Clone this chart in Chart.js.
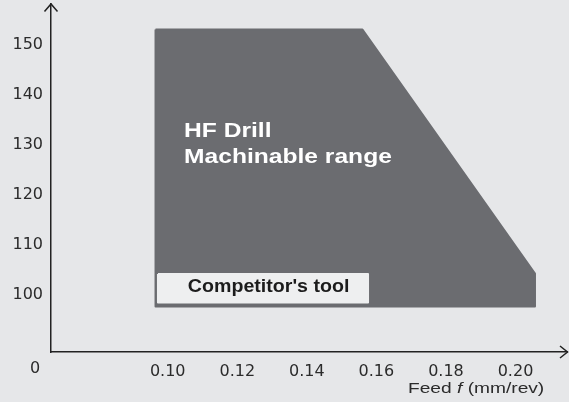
<!DOCTYPE html>
<html>
<head>
<meta charset="utf-8">
<script src="https://cdn.jsdelivr.net/npm/chart.js@4/dist/chart.umd.min.js"></script>
<style>
    html, body { margin: 0; padding: 0; background: #e6e7e9; }
    canvas { display: block; }
</style>
</head>
<body>
<canvas id="feedChart" width="569" height="402"></canvas>
<script>
// machinable range outline (feed mm/rev, cutting speed)
var rangeFeed  = [0.0965, 0.1560, 0.2056, 0.2056, 0.0965, 0.0965];
var rangeSpeed = [153.1, 153.1, 104.3, 97.7, 97.7, 153.1];

// competitor's tool window
var competitorFeed  = [0.0972, 0.1576, 0.1576, 0.0972, 0.0972];
var competitorSpeed = [104.2, 104.2, 98.5, 98.5, 104.2];

var feedTicks  = [0.10, 0.12, 0.14, 0.16, 0.18, 0.20];
var speedTicks = [100, 110, 120, 130, 140, 150];

var rangeTitle = ['HF Drill', 'Machinable range'];
var competitorTitle = "Competitor's tool";

(function() {
    var ctx = document.getElementById('feedChart').getContext('2d');
    var axisColor = '#222222';
    var textColor = '#2b2b2b';

    function toPoints(xs, ys) {
        return xs.map(function(x, i) { return { x: x, y: ys[i] }; });
    }

    // text with a little horizontal stretch
    function wideText(c, text, x, y, font, color, sx, align) {
        c.save();
        c.font = font;
        c.fillStyle = color;
        c.textBaseline = 'alphabetic';
        var w = c.measureText(text).width * sx;
        if (align === 'right') x -= w;
        c.translate(x, y);
        c.scale(sx, 1);
        c.fillText(text, 0, 0);
        c.restore();
        return w;
    }

    var labelsPlugin = {
        id: 'labels',
        afterDraw: function(chart) {
            var c = chart.ctx;
            var xs = chart.scales.x, ys = chart.scales.y;
            var area = chart.chartArea;
            var bold = 'bold 20.5px "Liberation Sans", Arial, sans-serif';

            // labels inside the range
            var lx = xs.getPixelForValue(0.1047);
            var ly = ys.getPixelForValue(131.6);
            rangeTitle.forEach(function(t, i) {
                wideText(c, t, lx, ly + i * 25.5, bold, '#ffffff', 1.2);
            });
            wideText(c, competitorTitle, xs.getPixelForValue(0.1058), ys.getPixelForValue(100.54),
                'bold 18.5px "Liberation Sans", Arial, sans-serif', '#1c1c1c', 1.06);

            // origin label
            c.save();
            c.font = '16px "DejaVu Sans", sans-serif';
            c.fillStyle = textColor;
            c.textAlign = 'center';
            c.textBaseline = 'middle';
            c.fillText('0', area.left - 16, area.bottom + 17);
            c.restore();

            // axis title: Feed f (mm/rev)
            var reg = '15.5px "Liberation Sans", Arial, sans-serif';
            var ita = 'italic 15.5px "Liberation Sans", Arial, sans-serif';
            var by = area.bottom + 40.7;
            var tx = area.left + 357;
            tx += wideText(c, 'Feed ', tx, by, reg, textColor, 1.236);
            tx += wideText(c, 'f', tx, by, ita, textColor, 1.236);
            wideText(c, ' (mm/rev)', tx, by, reg, textColor, 1.236);

            // arrow heads
            c.save();
            c.strokeStyle = axisColor;
            c.lineWidth = 1.5;
            c.beginPath();
            c.moveTo(area.left - 6.5, area.top + 7.5);
            c.lineTo(area.left, area.top);
            c.lineTo(area.left + 6.5, area.top + 7.5);
            c.moveTo(area.right - 7, area.bottom - 6);
            c.lineTo(area.right + 0.5, area.bottom);
            c.lineTo(area.right - 7, area.bottom + 6);
            c.stroke();
            c.restore();
        }
    };

    var data = {
        datasets: [{
            data: toPoints(competitorFeed, competitorSpeed),
            showLine: true,
            fill: 'shape',
            backgroundColor: '#eeeff0',
            borderColor: '#eeeff0',
            borderWidth: 2,
            borderJoinStyle: 'round',
            pointRadius: 0,
            order: 0
        }, {
            data: toPoints(rangeFeed, rangeSpeed),
            showLine: true,
            fill: 'shape',
            backgroundColor: '#6b6c70',
            borderColor: '#6b6c70',
            borderWidth: 2,
            borderJoinStyle: 'round',
            pointRadius: 0,
            order: 1
        }]
    };

    var tickFont = { family: '"DejaVu Sans", sans-serif', size: 16 };

    var options = {
        responsive: false,
        animation: false,
        layout: { padding: { top: 4, right: 2, left: 0, bottom: 0 } },
        plugins: { legend: { display: false }, tooltip: { enabled: false } },
        scales: {
            x: {
                type: 'linear',
                min: 0.066446,
                max: 0.214807,
                grid: { display: false, drawTicks: false },
                border: { display: true, color: axisColor, width: 1.5 },
                afterBuildTicks: function(scale) {
                    scale.ticks = feedTicks.map(function(v) { return { value: v }; });
                },
                afterFit: function(scale) {
                    scale.height = 50;
                    scale.paddingLeft = 0;
                    scale.paddingRight = 0;
                },
                ticks: {
                    font: tickFont,
                    color: textColor,
                    padding: 10,
                    maxRotation: 0,
                    autoSkip: false,
                    callback: function(v) { return v.toFixed(2); }
                }
            },
            y: {
                type: 'linear',
                min: 88.6,
                max: 158.2,
                grid: { display: false, drawTicks: false },
                border: { display: true, color: axisColor, width: 1.5 },
                afterBuildTicks: function(scale) {
                    scale.ticks = speedTicks.map(function(v) { return { value: v }; });
                },
                afterFit: function(scale) {
                    scale.width = 51;
                    // top tick sits well below the axis end, no label overhang needed
                    scale.paddingTop = 0;
                    scale.paddingBottom = 0;
                },
                ticks: {
                    font: tickFont,
                    color: textColor,
                    padding: 8,
                    autoSkip: false
                }
            }
        }
    };

    new Chart(ctx, {
        type: 'scatter',
        data: data,
        options: options,
        plugins: [labelsPlugin]
    });
})();
</script>
</body>
</html>
